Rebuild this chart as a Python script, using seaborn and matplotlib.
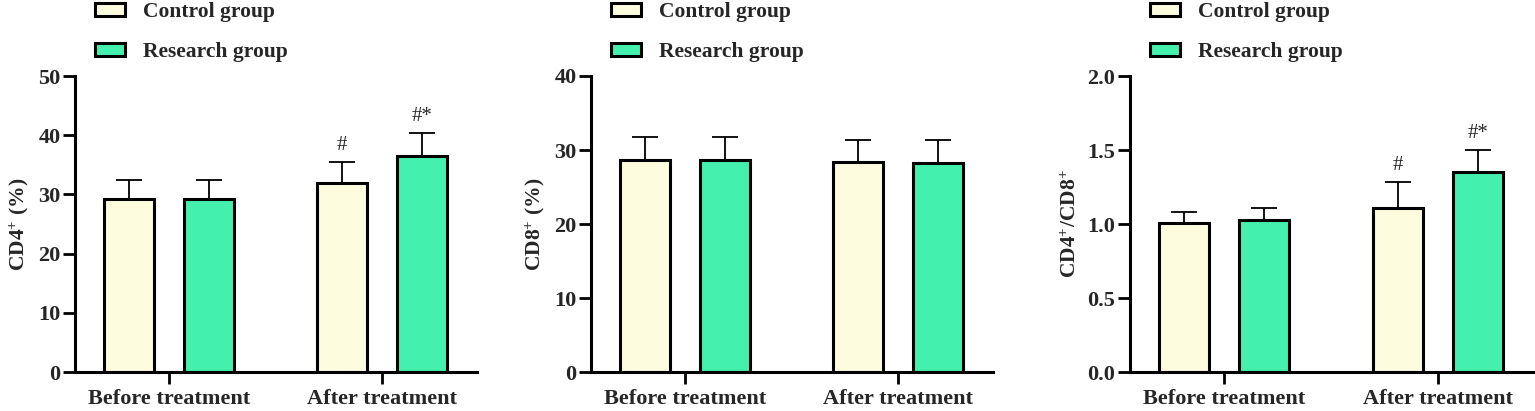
import numpy as np
import pandas as pd
import matplotlib
matplotlib.use("Agg")
import matplotlib.pyplot as plt
from matplotlib.patches import Patch
import seaborn as sns

# ---------------- data ----------------
categories = ["Before treatment", "After treatment"]
groups = ["Control group", "Research group"]

cd4_control = [29.3, 32.0]
cd4_research = [29.3, 36.5]
cd4_control_sd = [3.2, 3.5]
cd4_research_sd = [3.1, 3.9]
cd4_control_marks = ["", "#"]
cd4_research_marks = ["", "#*"]

cd8_control = [28.6, 28.4]
cd8_research = [28.7, 28.2]
cd8_control_sd = [3.15, 3.0]
cd8_research_sd = [3.1, 3.1]
cd8_control_marks = ["", ""]
cd8_research_marks = ["", ""]

ratio_control = [1.01, 1.11]
ratio_research = [1.03, 1.35]
ratio_control_sd = [0.07, 0.175]
ratio_research_sd = [0.08, 0.148]
ratio_control_marks = ["", "#"]
ratio_research_marks = ["", "#*"]

colors = ["#FEFCDF", "#44F0AE"]

panels = [
    dict(ctrl=cd4_control, res=cd4_research, csd=cd4_control_sd, rsd=cd4_research_sd,
         cm=cd4_control_marks, rm=cd4_research_marks, ylim=(0, 50), ticks=[0, 10, 20, 30, 40, 50],
         fmt="{:.0f}", ylabel=r"CD4$^{+}$ (%)"),
    dict(ctrl=cd8_control, res=cd8_research, csd=cd8_control_sd, rsd=cd8_research_sd,
         cm=cd8_control_marks, rm=cd8_research_marks, ylim=(0, 40), ticks=[0, 10, 20, 30, 40],
         fmt="{:.0f}", ylabel=r"CD8$^{+}$ (%)"),
    dict(ctrl=ratio_control, res=ratio_research, csd=ratio_control_sd, rsd=ratio_research_sd,
         cm=ratio_control_marks, rm=ratio_research_marks, ylim=(0, 2.0),
         ticks=[0.0, 0.5, 1.0, 1.5, 2.0], fmt="{:.1f}", ylabel=r"CD4$^{+}$/CD8$^{+}$"),
]

# ---------------- style ----------------
sns.set_theme(style="ticks")
plt.rcParams["font.family"] = ["Liberation Serif", "DejaVu Serif"]
plt.rcParams["font.weight"] = "bold"
plt.rcParams["mathtext.fontset"] = "custom"
plt.rcParams["mathtext.rm"] = "Liberation Serif:bold"
plt.rcParams["mathtext.it"] = "Liberation Serif:bold"
plt.rcParams["mathtext.bf"] = "Liberation Serif:bold"

fig = plt.figure(figsize=(15.35, 4.11), dpi=100)
lefts = [75, 591, 1130]
widths = [402, 402, 403]
W, H = 1535, 411
bottom_px, top_px = 372, 76

for p, left, width in zip(panels, lefts, widths):
    ax = fig.add_axes([left / W, (H - bottom_px) / H, width / W, (bottom_px - top_px) / H])
    df = pd.DataFrame({
        "cat": categories * 2,
        "grp": [groups[0]] * 2 + [groups[1]] * 2,
        "val": list(p["ctrl"]) + list(p["res"]),
    })
    sns.barplot(data=df, x="cat", y="val", hue="grp", order=categories, hue_order=groups,
                palette=colors, saturation=1, width=0.75, gap=0.37, edgecolor="black",
                linewidth=2.2, errorbar=None, legend=False, ax=ax, zorder=2)
    sds = [p["csd"], p["rsd"]]
    marks = [p["cm"], p["rm"]]
    for cont, sd, mk in zip(ax.containers, sds, marks):
        xs = [b.get_x() + b.get_width() / 2 for b in cont]
        ys = [b.get_height() for b in cont]
        ax.errorbar(xs, ys, yerr=[np.zeros(len(sd)), sd], fmt="none", ecolor="black",
                    elinewidth=1.3, capsize=9.7, capthick=1.3, zorder=1)
        for x, y, s, m in zip(xs, ys, sd, mk):
            if m:
                ax.annotate(m, (x, y + s), xytext=(0, 5), textcoords="offset points",
                            ha="center", va="bottom", fontsize=15, fontweight="normal")
    ax.set_xlim(-0.44, 1.445)
    ax.set_ylim(*p["ylim"])
    ax.set_yticks(p["ticks"])
    ax.set_yticklabels([p["fmt"].format(t) for t in p["ticks"]], fontsize=16, fontweight="bold")
    ax.set_xticks([0, 1])
    ax.set_xticklabels(categories, fontsize=16, fontweight="bold")
    ax.set_xlabel("")
    ax.set_ylabel(p["ylabel"], fontsize=15.5, fontweight="bold", labelpad=5)
    for s in ["top", "right"]:
        ax.spines[s].set_visible(False)
    for s in ["left", "bottom"]:
        ax.spines[s].set_linewidth(2.2)
        ax.spines[s].set_color("black")
    ax.tick_params(axis="both", length=8.5, width=2.0, color="black", pad=2)
    ax.tick_params(axis="x", pad=4)
    handles = [Patch(facecolor=c, edgecolor="black", linewidth=2.2, label=g)
               for c, g in zip(colors, groups)]
    ax.legend(handles=handles, loc="upper left", bbox_to_anchor=(0.05, 1.25),
              frameon=False, prop={"weight": "bold", "size": 15.5},
              handlelength=1.4, handleheight=0.56, handletextpad=0.84,
              labelspacing=0.95, borderpad=0, borderaxespad=0)

fig.savefig("out.png", dpi=100)
